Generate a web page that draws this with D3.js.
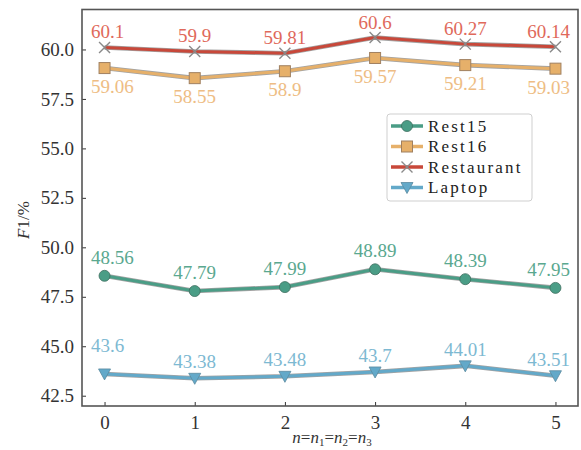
<!DOCTYPE html>
<html>
<head>
<meta charset="utf-8">
<script src="https://cdn.jsdelivr.net/npm/d3@7"></script>
<style>
  body { margin: 0; background: #fff; }
  svg text { font-family: "Liberation Serif", "DejaVu Serif", serif; }
</style>
</head>
<body>
<script>
// values
var steps = [0, 1, 2, 3, 4, 5];
var rest15 = [48.56, 47.79, 47.99, 48.89, 48.39, 47.95];
var rest16 = [59.06, 58.55, 58.9, 59.57, 59.21, 59.03];
var restaurant = [60.1, 59.9, 59.81, 60.6, 60.27, 60.14];
var laptop = [43.6, 43.38, 43.48, 43.7, 44.01, 43.51];
var yTicks = [42.5, 45.0, 47.5, 50.0, 52.5, 55.0, 57.5, 60.0];

var width = 581, height = 450;
var margin = {top: 9.5, right: 3, bottom: 44, left: 82};
var w = width - margin.left - margin.right,
    h = height - margin.top - margin.bottom;

var series = [
  {name: "Rest15", values: rest15, line: "#4a9d86", label: "#5aa88f", marker: "circle", dy: -12},
  {name: "Rest16", values: rest16, line: "#e6b06a", label: "#eebd84", marker: "square", dy: 25},
  {name: "Restaurant", values: restaurant, line: "#c8483a", label: "#e0695b", marker: "x", dy: -9},
  {name: "Laptop", values: laptop, line: "#63a9c9", label: "#7db9d2", marker: "tri", dy: -10}
];

var x = d3.scaleLinear().domain([-0.25, 5.25]).range([0, w]);
var y = d3.scaleLinear().domain([41.98, 62.02]).range([h, 0]);

var svg = d3.select("body").append("svg")
    .attr("width", width)
    .attr("height", height);
var g = svg.append("g")
    .attr("transform", "translate(" + margin.left + "," + margin.top + ")");

// axes, ticks pointing inward
var xAxis = g.append("g")
    .attr("transform", "translate(0," + h + ")")
    .call(d3.axisBottom(x).tickValues(steps).tickSize(-4).tickPadding(10).tickFormat(d3.format("d")));
var yAxis = g.append("g")
    .call(d3.axisLeft(y).tickValues(yTicks).tickSize(-4).tickPadding(8).tickFormat(d3.format(".1f")));
[xAxis, yAxis].forEach(function(a) {
  a.select(".domain").remove();
  a.selectAll("line").attr("stroke", "#333").attr("stroke-width", 1);
  a.selectAll("text").attr("fill", "#333").style("font-size", "19px")
      .style("font-family", "'Liberation Serif', serif");
});

// frame
g.append("rect")
    .attr("width", w).attr("height", h)
    .attr("fill", "none")
    .attr("stroke", "#555").attr("stroke-width", 1.6);

var line = d3.line()
    .x(function(d, i) { return x(steps[i]); })
    .y(function(d) { return y(d); });

function drawMarker(sel, type, color, cx, cy) {
  if (type === "circle") {
    sel.append("circle").attr("cx", cx).attr("cy", cy).attr("r", 5.5)
        .attr("fill", color).attr("stroke", "#3f6f60").attr("stroke-width", 0.8);
  } else if (type === "square") {
    sel.append("rect").attr("x", cx - 5.5).attr("y", cy - 5.5).attr("width", 11).attr("height", 11)
        .attr("fill", color).attr("stroke", "#a08060").attr("stroke-width", 1);
  } else if (type === "x") {
    sel.append("path")
        .attr("d", "M" + (cx - 5.5) + "," + (cy - 5.5) + "L" + (cx + 5.5) + "," + (cy + 5.5) +
                   "M" + (cx - 5.5) + "," + (cy + 5.5) + "L" + (cx + 5.5) + "," + (cy - 5.5))
        .attr("stroke", "#8a8a8a").attr("stroke-width", 1.4).attr("fill", "none");
  } else {
    sel.append("path")
        .attr("d", "M" + (cx - 6) + "," + (cy - 5) + "L" + (cx + 6) + "," + (cy - 5) + "L" + cx + "," + (cy + 6) + "Z")
        .attr("fill", color).attr("stroke", "#5a8aa0").attr("stroke-width", 0.8);
  }
}

series.forEach(function(s) {
  var sg = g.append("g");
  sg.append("path").datum(s.values)
      .attr("d", line).attr("fill", "none")
      .attr("stroke", "#555").attr("stroke-opacity", 0.55).attr("stroke-width", 4.6)
      .attr("stroke-linejoin", "round");
  sg.append("path").datum(s.values)
      .attr("d", line).attr("fill", "none")
      .attr("stroke", s.line).attr("stroke-width", 3)
      .attr("stroke-linejoin", "round");
  s.values.forEach(function(v, i) {
    drawMarker(sg, s.marker, s.line, x(steps[i]), y(v));
    var dy = s.dy;
    if (s.name === "Laptop" && i === 0) dy = -22;
    // end labels are kept inside the frame
    var anchor = "middle", tx = x(steps[i]);
    if (i === 0) { anchor = "start"; tx -= 13.5; }
    if (i === steps.length - 1) { anchor = "end"; tx += 14.5; }
    sg.append("text")
        .attr("x", tx)
        .attr("y", y(v) + dy)
        .attr("text-anchor", anchor)
        .attr("fill", s.label)
        .style("font-size", "19px")
        .text(v);
  });
});

// axis labels
var yl = svg.append("text")
    .attr("transform", "translate(29," + 220 + ") rotate(-90)")
    .attr("text-anchor", "middle")
    .attr("fill", "#333")
    .style("font-size", "17px");
yl.append("tspan").style("font-style", "italic").text("F");
yl.append("tspan").text("1/%");

var xl = svg.append("text")
    .attr("x", 332).attr("y", 443)
    .attr("text-anchor", "middle")
    .attr("fill", "#333")
    .style("font-size", "17px");
var parts = ["n", "=", "n1", "=", "n2", "=", "n3"];
var shifted = false;
parts.forEach(function(p) {
  if (p[0] === "n") {
    xl.append("tspan").attr("dy", shifted ? -3 : 0).style("font-style", "italic").text("n");
    shifted = false;
    if (p.length > 1) {
      xl.append("tspan").attr("dy", 3).style("font-size", "11px").text(p.slice(1));
      shifted = true;
    }
  } else {
    xl.append("tspan").attr("dy", shifted ? -3 : 0).text(p);
    shifted = false;
  }
});

// legend
var lg = svg.append("g").attr("transform", "translate(387,114)");
lg.append("rect")
    .attr("width", 145).attr("height", 87).attr("rx", 3)
    .attr("fill", "#fff").attr("stroke", "#cfcfcf").attr("stroke-width", 1);
series.forEach(function(s, i) {
  var yy = 12 + i * 20.5;
  lg.append("line").attr("x1", 4).attr("x2", 36).attr("y1", yy).attr("y2", yy)
      .attr("stroke", s.line).attr("stroke-width", 3.5);
  drawMarker(lg, s.marker, s.line, 20, yy);
  lg.append("text").attr("x", 41).attr("y", yy + 5.5)
      .attr("fill", "#222")
      .style("font-size", "17px")
      .style("letter-spacing", "2.2px")
      .text(s.name);
});
</script>
</body>
</html>
